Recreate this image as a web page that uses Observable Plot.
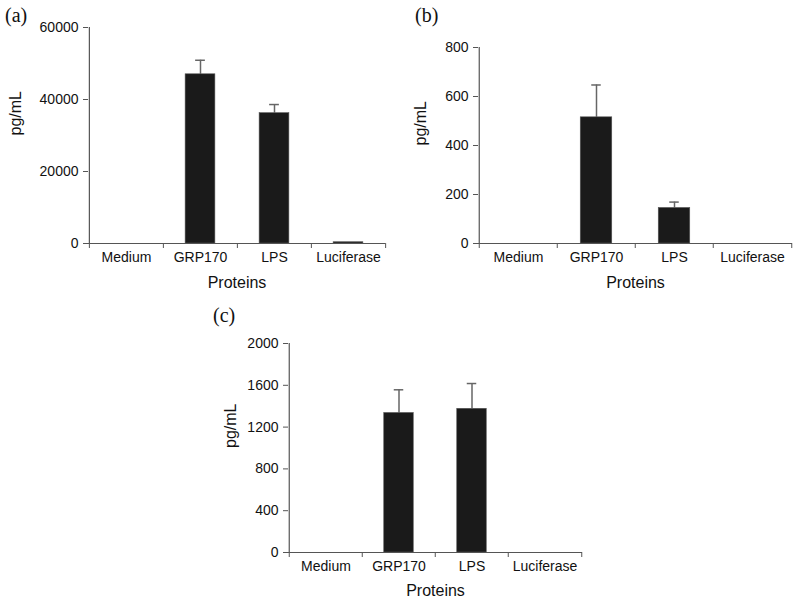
<!DOCTYPE html>
<html><head><meta charset="utf-8">
<script src="https://cdn.jsdelivr.net/npm/d3@7"></script>
<script src="https://cdn.jsdelivr.net/npm/@observablehq/plot@0.6"></script>
<style>
body{margin:0;background:#fff;}
#wrap{position:relative;width:800px;height:603px;font-family:"Liberation Sans",Arial,sans-serif;}
.pl{position:absolute;font-family:"Liberation Serif","Times New Roman",serif;font-size:20px;color:#111;line-height:1;}
.panel{position:absolute;}
</style></head>
<body><div id="wrap"></div>
<script>
const categories = ["Medium", "GRP170", "LPS", "Luciferase"];
const valuesA = [0, 47000, 36200, 350];
const errorsA = [0, 3900, 2400, 0];
const valuesB = [0, 515, 145, 0];
const errorsB = [0, 132, 24, 0];
const valuesC = [0, 1335, 1375, 0];
const errorsC = [0, 222, 242, 0];
const ticksA = [0, 20000, 40000, 60000];
const ticksB = [0, 200, 400, 600, 800];
const ticksC = [0, 400, 800, 1200, 1600, 2000];
const panelLabels = ["(a)", "(b)", "(c)"];
const yLabel = "pg/mL";
const xLabel = "Proteins";

const wrap = document.getElementById("wrap");

function panel({values, errors, ticks, ymax, left, top, width, height, ml, mr, mt, mb, barW, labelDx, xLabelDy}) {
  const data = categories.map((c, i) => ({cat: c, v: values[i], e: errors[i]}));
  const bw = (width - ml - mr) / categories.length;
  const errData = data.filter(d => d.e > 0);
  const barInset = (bw - barW) / 2;
  const chart = Plot.plot({
    width, height,
    marginLeft: ml, marginRight: mr, marginTop: mt, marginBottom: mb,
    style: {fontFamily: "Liberation Sans, Arial, sans-serif", fontSize: "14px", color: "#111", background: "#fff"},
    x: {domain: categories, padding: 0, axis: null},
    y: {domain: [0, ymax], axis: null},
    marks: [
      Plot.ruleX(errData, {x: "cat", y1: d => d.v, y2: d => d.v + d.e, stroke: "#666", strokeWidth: 1.5}),
      Plot.tickY(errData, {x: "cat", y: d => d.v + d.e, stroke: "#666", strokeWidth: 1.5, inset: (bw - 10) / 2}),
      Plot.barY(data, {x: "cat", y: "v", fill: "#1a1a1a", stroke: "#555", strokeWidth: 0.6, insetLeft: barInset, insetRight: barInset}),
      Plot.axisY({ticks, tickSize: 5, tickPadding: 5, tickFormat: d => String(d), label: null, stroke: "#555", fontSize: 14}),
      Plot.axisX({tickSize: 0, tickPadding: 9, label: null, fontSize: 14}),
      Plot.axisX(categories, {tickSize: 5, tickFormat: () => "", dx: -bw / 2, label: null, stroke: "#555"}),
      Plot.axisX([categories[categories.length - 1]], {tickSize: 5, tickFormat: () => "", dx: bw / 2, label: null, stroke: "#555"}),
      Plot.ruleY([0], {stroke: "#555", strokeWidth: 1.2}),
      Plot.ruleX([categories[0]], {dx: -bw / 2, stroke: "#555", strokeWidth: 1.2}),
      Plot.text([yLabel], {frameAnchor: "left", dx: labelDx, rotate: -90, fontSize: 16, fill: "#111", lineAnchor: "middle"}),
      Plot.text([xLabel], {frameAnchor: "bottom", dy: xLabelDy, fontSize: 16, fill: "#111", lineAnchor: "middle"})
    ]
  });
  chart.classList.add("panel");
  chart.style.left = left + "px";
  chart.style.top = top + "px";
  wrap.appendChild(chart);
}

panel({values: valuesA, errors: errorsA, ticks: ticksA, ymax: 60000, left: 0, top: 0, width: 400, height: 300, ml: 88, mr: 15, mt: 27, mb: 57, barW: 30, labelDx: -73, xLabelDy: 39});
panel({values: valuesB, errors: errorsB, ticks: ticksB, ymax: 800, left: 400, top: 0, width: 400, height: 300, ml: 78, mr: 8, mt: 47, mb: 57, barW: 32, labelDx: -58, xLabelDy: 39});
panel({values: valuesC, errors: errorsC, ticks: ticksC, ymax: 2000, left: 200, top: 300, width: 400, height: 303, ml: 88, mr: 18, mt: 43, mb: 51, barW: 30, labelDx: -58, xLabelDy: 38});

const pos = [[5, 5], [415, 5], [213, 305]];
panelLabels.forEach((t, i) => {
  const d = document.createElement("div");
  d.className = "pl";
  d.textContent = t;
  d.style.left = pos[i][0] + "px";
  d.style.top = pos[i][1] + "px";
  wrap.appendChild(d);
});
</script></body></html>
